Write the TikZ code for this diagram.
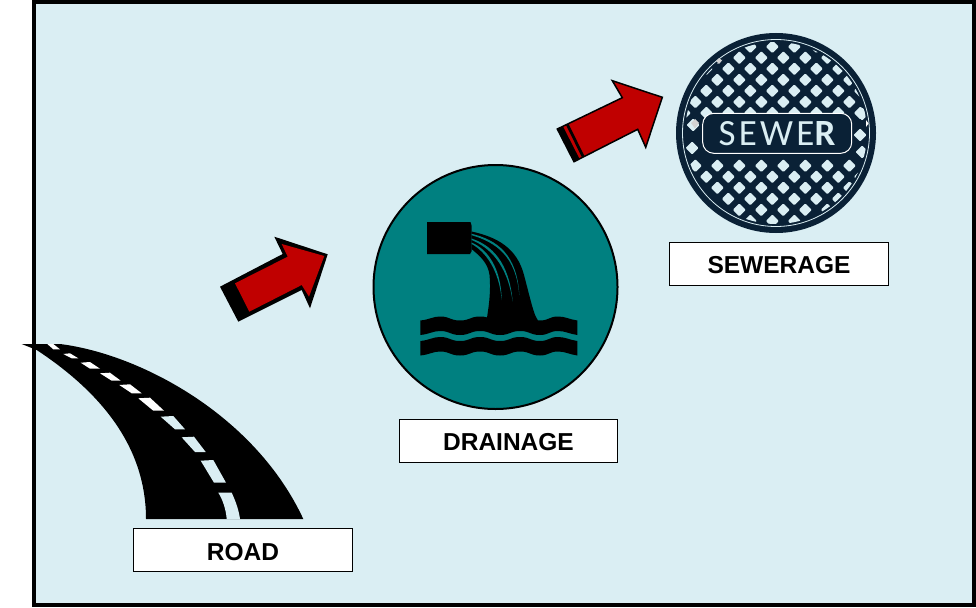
\documentclass[tikz,border=0pt]{standalone}
\usepackage{fontspec}
\setmainfont{Liberation Sans}
\newfontfamily\sewerfont[LetterSpace=9]{Carlito}
\definecolor{bgblue}{HTML}{DAEEF3}
\definecolor{tealc}{HTML}{008080}
\definecolor{redc}{HTML}{C00000}
\definecolor{sewerdark}{HTML}{0A2136}
\tikzset{
  labelbox/.style={draw=black,line width=0.9pt,fill=white,minimum width=218.5pt,minimum height=43.2pt,inner sep=0pt,font=\fontsize{24.5}{28}\selectfont\bfseries,text=black,text depth=0pt},
  gapfill/.style={fill=bgblue},
  dashfill/.style={fill=white},
  slit/.style={fill=tealc},
  grate/.style={fill=bgblue}
}
\newcommand{\diam}[2]{\fill[grate,rounded corners=1pt] (#1-6.5,#2) -- (#1,#2-6.5) -- (#1+6.5,#2) -- (#1,#2+6.5) -- cycle;}
\begin{document}
\begin{tikzpicture}[x=1pt,y=-1pt]
\useasboundingbox (0,0) rectangle (976,607);
\fill[white] (0,0) rectangle (976,607);
\draw[black,line width=4pt,fill=bgblue] (33.5,2.5) rectangle (974,604.5);

% road
\fill[black] (21.7,344) -- (60,344)
  .. controls (140,354) and (255,415) .. (303.3,519)
  -- (146,519)
  .. controls (146,450) and (105,395) .. (36.7,350) -- cycle;
\fill[dashfill] (47.3,344) -- (53.3,344) -- (60,349.3) -- (53.3,349.3) -- cycle;
\fill[dashfill] (63.3,354) -- (70,353.3) -- (78.3,358.3) -- (71.7,358.3) -- cycle;
\fill[dashfill] (80.7,362.7) -- (90,362) -- (100,368.7) -- (90,368.7) -- cycle;
\fill[dashfill] (100,373.3) -- (110,372.7) -- (120.7,380.7) -- (111.7,380.7) -- cycle;
\fill[dashfill] (119.3,385) -- (130,384.3) -- (141.7,393.3) -- (131.7,393.3) -- cycle;
\fill[dashfill] (138.3,398.3) -- (150,397.7) -- (164,410.7) -- (153.3,410.7) -- cycle;
\fill[gapfill] (160.7,416.7) -- (173.3,416) -- (185,429.3) -- (175,429.3) -- cycle;
\fill[gapfill] (181.7,437.3) -- (194,436.7) -- (205.7,452) -- (195,452) -- cycle;
\fill[gapfill] (200.7,460.7) -- (213.3,460) -- (226,482.7) -- (214,482.7) -- cycle;
\fill[gapfill] (218.3,492.7) -- (231.7,492.7) .. controls (236,502) and (239,511) .. (240,519) -- (226.7,519) .. controls (226,510) and (223,500) .. (218.3,492.7) -- cycle;
\node[labelbox,text height=20pt] (road) at (243,550.3) {ROAD};

% arrow 1
\fill[black] (220,286.7) -- (282.7,254) -- (274.3,236.7) -- (327.7,254.3) -- (310,308.3) -- (301.7,290) -- (238.3,321.7) -- cycle;
\fill[redc] (235,283.3) -- (287.7,256.7) -- (281.7,244) -- (324.3,256) -- (309,296.7) -- (301.7,285) -- (249.3,311.7) -- cycle;

% drainage
\draw[black,line width=2pt,fill=tealc] (495.5,287) circle (122);
\node[labelbox,text height=20.3pt] (drainage) at (508.5,440.8) {DRAINAGE};
\fill[black] (427,222) -- (470.5,222) -- (471.7,226) -- (471.7,251) -- (470,254) -- (427,254) -- cycle;
\fill[black] (471.5,231.5)
  .. controls (497,237) and (517,248) .. (524,275)
  .. controls (528,290) and (531,303) .. (534,312)
  .. controls (535,316) and (537,318) .. (538.5,322)
  -- (486,324)
  .. controls (489,305) and (491,292) .. (489.5,275)
  .. controls (488,263) and (480,256) .. (471.5,249) -- cycle;
\fill[black] (420.3,320.5) .. controls (430,319.5) and (433,316.5) .. (440,316.5) .. controls (450,316.5) and (450,320.5) .. (460,320.5) .. controls (470,320.5) and (470,316.5) .. (480,316.5) .. controls (490,316.5) and (490,320.5) .. (500,320.5) .. controls (510,320.5) and (510,316.5) .. (520,316.5) .. controls (530,316.5) and (530,320.5) .. (540,320.5) .. controls (549,320.5) and (549,316.5) .. (558,316.5) .. controls (565,316.5) and (570,319.5) .. (577.3,320.5)
  -- (577.3,335) .. controls (570,334) and (565,331) .. (558,331) .. controls (549,331) and (549,335) .. (540,335) .. controls (530,335) and (530,331) .. (520,331) .. controls (510,331) and (510,335) .. (500,335) .. controls (490,335) and (490,331) .. (480,331) .. controls (470,331) and (470,335) .. (460,335) .. controls (450,335) and (450,331) .. (440,331) .. controls (433,331) and (430,334) .. (420.3,335) -- cycle;
\fill[black] (420.3,341) .. controls (430,340) and (433,337) .. (440,337) .. controls (450,337) and (450,341) .. (460,341) .. controls (470,341) and (470,337) .. (480,337) .. controls (490,337) and (490,341) .. (500,341) .. controls (510,341) and (510,337) .. (520,337) .. controls (530,337) and (530,341) .. (540,341) .. controls (549,341) and (549,337) .. (558,337) .. controls (565,337) and (570,340) .. (577.3,341)
  -- (577.3,355.5) .. controls (570,354.5) and (565,351.5) .. (558,351.5) .. controls (549,351.5) and (549,355.5) .. (540,355.5) .. controls (530,355.5) and (530,351.5) .. (520,351.5) .. controls (510,351.5) and (510,355.5) .. (500,355.5) .. controls (490,355.5) and (490,351.5) .. (480,351.5) .. controls (470,351.5) and (470,355.5) .. (460,355.5) .. controls (450,355.5) and (450,351.5) .. (440,351.5) .. controls (433,351.5) and (430,354.5) .. (420.3,355.5) -- cycle;
\fill[slit] (471.7,233.8) .. controls (497,240) and (517,254) .. (519.3,295) .. controls (516,256) and (496,242.5) .. (471.7,235.2) -- cycle;
\fill[slit] (471.7,238.6) .. controls (491,245) and (509,261) .. (512.7,301.7) .. controls (507,263) and (489,247.5) .. (471.7,240) -- cycle;
\fill[slit] (471.7,242.6) .. controls (487,249) and (501,267) .. (501.7,300) .. controls (499,269) and (485,251.5) .. (471.7,244) -- cycle;

% arrow 2
\draw[black,line width=1.5pt,line join=miter,fill=redc] (557.3,129) -- (622.3,97.7) -- (612.3,80.7) -- (662.3,97.3) -- (645.7,147.3) -- (637.7,129.3) -- (574,161.7) -- cycle;
\fill[black] (557.3,129) -- (563,126.5) -- (579.5,158.9) -- (574,161.7) -- cycle;
\fill[black] (566,125) -- (568.5,123.8) -- (584.5,156.2) -- (582,157.5) -- cycle;

% sewer cover
\fill[sewerdark] (776,133) circle (100);
\draw[bgblue,line width=0.8pt] (776,133) circle (93.5);
\begin{scope}
  \clip (776,133) circle (91);
  \foreach \i in {0,...,6}{
    \pgfmathsetmacro{\cy}{46.7+\i*11.05}
    \foreach \j in {-5,...,5}{
      \pgfmathsetmacro{\cx}{772.3+(\j*2+mod(\i,2))*11}
      \diam{\cx}{\cy}
    }
  }
  \foreach \i in {0,...,6}{
    \pgfmathsetmacro{\cy}{165.7+\i*11.05}
    \foreach \j in {-5,...,5}{
      \pgfmathsetmacro{\cx}{783.3+(\j*2+mod(\i,2))*11}
      \diam{\cx}{\cy}
    }
  }
  \diam{860}{135}\diam{693}{125}\diam{692}{148}\diam{862}{114}\diam{862}{152}
\end{scope}
\fill[gray!35] (695,119) -- (699,123) -- (695,128.5) -- (691,123) -- cycle;
\fill[gray!35] (719,58) -- (722,60.5) -- (719,64) -- (716,61) -- cycle;
\fill[white] (866,120) -- (868.5,123.5) -- (866,127) -- cycle;
\draw[white,line width=1pt,rounded corners=11pt,fill=sewerdark] (702.7,113.3) rectangle (851.7,153.3);
\node[inner sep=0pt,text=bgblue,font=\fontsize{37}{40}\sewerfont] (sewerword) at (777,133.5) {SEWE{\bfseries R}};
\node[labelbox,text height=18pt] (sewerage) at (779,264) {SEWERAGE};
\end{tikzpicture}
\end{document}
